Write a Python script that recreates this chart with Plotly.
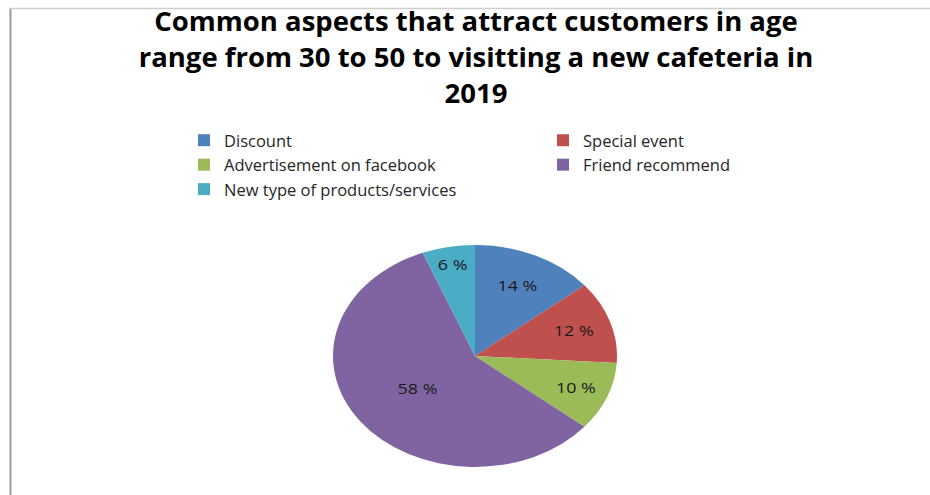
import plotly.graph_objects as go

# Survey shares (percent) for each attraction factor
categories = ["Discount", "Special event", "Advertisement on facebook",
              "Friend recommend", "New type of products/services"]
shares = [14, 12, 10, 58, 6]
colors = ["#4F81BD", "#C0504D", "#9BBB59", "#8064A2", "#4BACC6"]

W, H = 930, 495
cx_px, cy_px, r_px = 475, 356, 111   # pie centre and vertical radius (px)
stretch = 142 / 111                   # horizontal widening of the pie

fig = go.Figure(go.Pie(
    labels=categories,
    values=shares,
    sort=False,
    direction="clockwise",
    rotation=0,
    marker=dict(colors=colors, line=dict(width=0)),
    texttemplate="%{value} %",
    textposition="inside",
    insidetextorientation="horizontal",
    textfont=dict(family="Open Sans", size=14, color="#1a1a1a"),
    domain=dict(x=[(cx_px - r_px) / W, (cx_px + r_px) / W],
                y=[(H - cy_px - r_px) / H, (H - cy_px + r_px) / H]),
    hoverinfo="label+value",
))

fig.update_layout(
    width=W, height=H,
    margin=dict(l=0, r=0, t=0, b=0, autoexpand=False),
    paper_bgcolor="white",
    plot_bgcolor="white",
    title=dict(
        text="Common aspects that attract customers in age<br>"
             "range from 30 to 50 to visitting a new cafeteria in<br>2019",
        x=476 / W, xanchor="center",
        y=1 - 31 / H, yanchor="top",
        font=dict(family="Open Sans", size=27.5, color="#000000", weight="bold"),
    ),
    legend=dict(
        orientation="h",
        x=184 / W, xanchor="left",
        y=1 - 123 / H, yanchor="top",
        entrywidth=314, entrywidthmode="pixels",
        font=dict(family="Open Sans", size=16.5, color="#262626"),
        bgcolor="rgba(0,0,0,0)",
    ),
    shapes=[
        dict(type="line", xref="paper", yref="paper",
             x0=10.5 / W, x1=10.5 / W, y0=0, y1=1 - 8 / H,
             line=dict(color="#9a9a9a", width=2)),
        dict(type="line", xref="paper", yref="paper",
             x0=10 / W, x1=1, y0=1 - 8.5 / H, y1=1 - 8.5 / H,
             line=dict(color="#cfcfcf", width=1.5)),
    ],
)

# Widen the pie into an ellipse around its centre after Plotly draws it
post = """
var gd = document.getElementById('{plot_id}');
function widenPie() {
  var layer = gd.querySelector('.pielayer');
  if (!layer || !gd.calcdata) return;
  var cx = gd.calcdata[0][0].cx;
  layer.setAttribute('transform',
    'translate(' + cx + ',0) scale(%s,1) translate(' + (-cx) + ',0)');
}
widenPie();
gd.on('plotly_afterplot', widenPie);
""" % stretch

fig.write_html("out.html", post_script=post)
